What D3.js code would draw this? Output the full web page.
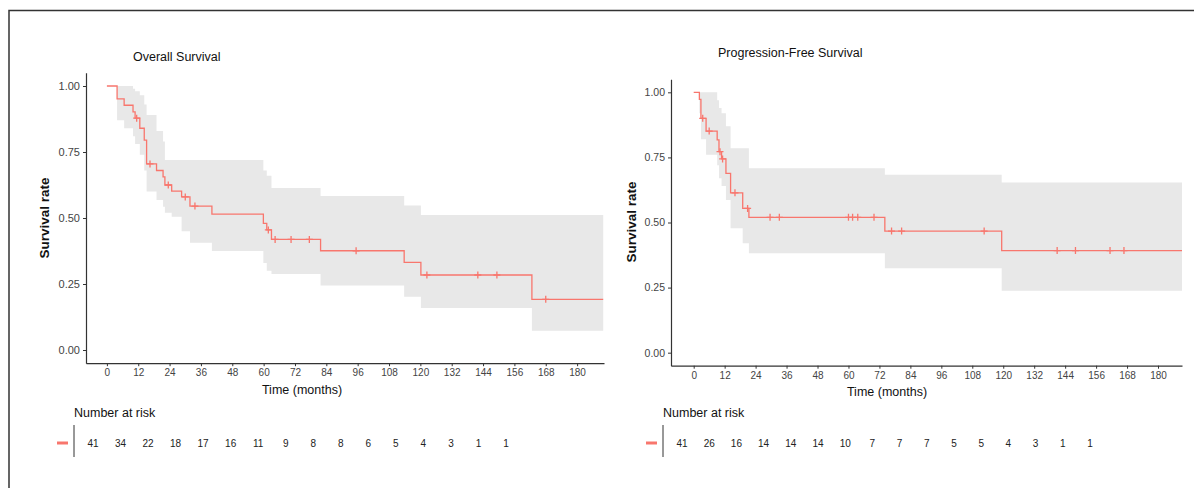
<!DOCTYPE html>
<html>
<head>
<meta charset="utf-8">
<script src="https://d3js.org/d3.v7.min.js"></script>
<style>
  body { margin: 0; background: white; }
  svg text { font-family: "Liberation Sans", Arial, sans-serif; }
  .tick text { fill: #444; }
</style>
</head>
<body>
<svg id="chart" width="1194" height="488"></svg>
<script>
// ---- data ----
var timeTicks = [0, 12, 24, 36, 48, 60, 72, 84, 96, 108, 120, 132, 144, 156, 168, 180];
var yTicks = [0, 0.25, 0.5, 0.75, 1];

// overall survival: step starts, survival, CI upper, CI lower
var osTime  = [0, 3.9, 6.6, 10, 10.8, 12.6, 14.3, 15.2, 19, 21.5, 22.2, 24.8, 28.6, 31.8, 40.2, 59.9, 61.2, 63, 81.8, 113.8, 120.2, 162.7];
var osSurv  = [1, 0.951, 0.927, 0.902, 0.878, 0.84, 0.795, 0.705, 0.68, 0.656, 0.625, 0.602, 0.58, 0.545, 0.515, 0.48, 0.455, 0.419, 0.376, 0.332, 0.284, 0.192];
var osUpper = [1, 1, 1, 0.99, 0.98, 0.965, 0.93, 0.89, 0.83, 0.79, 0.72, 0.72, 0.72, 0.72, 0.72, 0.68, 0.66, 0.614, 0.583, 0.547, 0.511, 0.511];
var osLower = [1, 0.87, 0.84, 0.81, 0.78, 0.74, 0.68, 0.60, 0.568, 0.543, 0.52, 0.505, 0.45, 0.406, 0.375, 0.33, 0.30, 0.288, 0.244, 0.202, 0.159, 0.073];
var osCensor = [11.4, 16.5, 23.5, 30, 33.7, 61.8, 64.4, 70.5, 77.5, 95.4, 122.5, 142, 149.3, 168];
var osEnd = 190;
var osRisk = [41, 34, 22, 18, 17, 16, 11, 9, 8, 8, 6, 5, 4, 3, 1, 1];

// progression-free survival
var pfsTime  = [0, 2.2, 2.8, 4.8, 9.1, 9.8, 10.8, 12.5, 14.3, 19, 21.4, 74.1, 119.4];
var pfsSurv  = [1, 0.973, 0.90, 0.851, 0.817, 0.772, 0.744, 0.689, 0.614, 0.554, 0.52, 0.467, 0.392];
var pfsUpper = [1, 1, 1, 1, 0.97, 0.94, 0.92, 0.87, 0.785, 0.785, 0.708, 0.683, 0.654];
var pfsLower = [1, 0.92, 0.82, 0.76, 0.72, 0.67, 0.64, 0.586, 0.478, 0.42, 0.382, 0.324, 0.238];
var pfsCensor = [3.5, 6, 10.2, 11.2, 16, 20.9, 29.6, 33.2, 60, 61.6, 63.6, 69.9, 76.7, 80.6, 112.6, 140.9, 148, 161.4, 166.8];
var pfsEnd = 189.3;
var pfsRisk = [41, 26, 16, 14, 14, 14, 10, 7, 7, 7, 5, 5, 4, 3, 1, 1];

var red = "#F8766D";
var svg = d3.select("#chart");

// outer frame
svg.append("rect")
  .attr("x", 9).attr("y", 10.5)
  .attr("width", 1200).attr("height", 500)
  .attr("fill", "none").attr("stroke", "#333").attr("stroke-width", 1.5);

function panel(p) {
  var x = d3.scaleLinear().domain([p.xMin, p.xMax]).range([p.left, p.right]);
  var y = d3.scaleLinear().domain([-0.05, 1.05]).range([p.bottom, p.top]);

  var steps = p.time.map(function(t, i) {
    return { t: t, s: p.surv[i], u: p.upper[i], l: p.lower[i] };
  });
  var last = steps[steps.length - 1];
  steps.push({ t: p.end, s: last.s, u: last.u, l: last.l });

  var g = svg.append("g");

  g.append("path")
    .datum(steps)
    .attr("fill", "#e8e8e8")
    .attr("d", d3.area().curve(d3.curveStepAfter)
      .x(function(d) { return x(d.t); })
      .y0(function(d) { return y(d.l); })
      .y1(function(d) { return y(d.u); }));

  g.append("path")
    .datum(steps)
    .attr("fill", "none")
    .attr("stroke", red)
    .attr("stroke-width", 1.3)
    .attr("d", d3.line().curve(d3.curveStepAfter)
      .x(function(d) { return x(d.t); })
      .y(function(d) { return y(d.s); }));

  // censor marks
  function survAt(t) {
    var s = 1;
    p.time.forEach(function(tt, i) { if (tt <= t) s = p.surv[i]; });
    return s;
  }
  g.selectAll(".cens")
    .data(p.censor)
    .enter().append("path")
    .attr("class", "cens")
    .attr("stroke", red)
    .attr("stroke-width", 1.3)
    .attr("d", function(t) {
      var cx = x(t), cy = y(survAt(t));
      return "M" + (cx - 3.5) + "," + cy + "H" + (cx + 3.5) + "M" + cx + "," + (cy - 3.5) + "V" + (cy + 3.5);
    });

  // axes
  var xAxis = g.append("g")
    .attr("transform", "translate(0," + p.bottom + ")")
    .call(d3.axisBottom(x).tickValues(timeTicks).tickSize(3).tickSizeOuter(0).tickPadding(3));
  xAxis.selectAll("text").style("font-size", p.xFont + "px");

  var yAxis = g.append("g")
    .attr("transform", "translate(" + p.left + ",0)")
    .call(d3.axisLeft(y).tickValues(yTicks).tickFormat(d3.format(".2f")).tickSize(3).tickSizeOuter(0).tickPadding(3));
  yAxis.selectAll("text").style("font-size", p.yFont + "px");

  [xAxis, yAxis].forEach(function(a) {
    a.select(".domain").attr("stroke", "#333").attr("stroke-width", 1.2);
    a.selectAll(".tick line").attr("stroke", "#333");
  });

  g.append("text")
    .attr("x", p.titleX).attr("y", p.titleY)
    .style("font-size", "12.5px").attr("fill", "#111")
    .text(p.title);

  g.append("text")
    .attr("x", p.xLabX).attr("y", p.xLabY)
    .attr("text-anchor", "middle")
    .style("font-size", "12.5px").attr("fill", "#111")
    .text("Time (months)");

  g.append("text")
    .attr("transform", "translate(" + p.yLabX + "," + p.yLabY + ") rotate(-90)")
    .attr("text-anchor", "middle")
    .style("font-size", "13.5px").style("font-weight", "bold").attr("fill", "#111")
    .text("Survival rate");

  // number at risk table
  var rx = d3.scaleLinear().domain([0, 180]).range([p.riskL, p.riskR]);
  g.append("text")
    .attr("x", p.riskLine).attr("y", 417)
    .style("font-size", "12.5px").attr("fill", "#111")
    .text("Number at risk");
  g.append("line")
    .attr("x1", p.riskLine).attr("x2", p.riskLine)
    .attr("y1", 425).attr("y2", 457)
    .attr("stroke", "#333").attr("stroke-width", 1);
  g.append("line")
    .attr("x1", p.riskLine - 17).attr("x2", p.riskLine - 6)
    .attr("y1", 443).attr("y2", 443)
    .attr("stroke", red).attr("stroke-width", 3);
  g.selectAll(".risk")
    .data(p.risk)
    .enter().append("text")
    .attr("class", "risk")
    .attr("x", function(d, i) { return rx(timeTicks[i]); })
    .attr("y", 446.5)
    .attr("text-anchor", "middle")
    .style("font-size", "10px").attr("fill", "#222")
    .text(function(d) { return d; });
}

panel({
  title: "Overall Survival", titleX: 133, titleY: 61,
  time: osTime, surv: osSurv, upper: osUpper, lower: osLower, censor: osCensor, end: osEnd,
  risk: osRisk,
  xMin: -8, xMax: 190.3, left: 86, right: 604, top: 72.8, bottom: 363.2,
  xFont: 10, yFont: 11,
  xLabX: 302, xLabY: 394, yLabX: 49, yLabY: 218,
  riskL: 93, riskR: 506, riskLine: 74
});

panel({
  title: "Progression-Free Survival", titleX: 718, titleY: 57,
  time: pfsTime, surv: pfsSurv, upper: pfsUpper, lower: pfsLower, censor: pfsCensor, end: pfsEnd,
  risk: pfsRisk,
  xMin: -8.8, xMax: 189.3, left: 671, right: 1182, top: 79.3, bottom: 365.7,
  xFont: 10, yFont: 10.5,
  xLabX: 887, xLabY: 396, yLabX: 636, yLabY: 222,
  riskL: 682, riskR: 1090, riskLine: 663
});
</script>
</body>
</html>
